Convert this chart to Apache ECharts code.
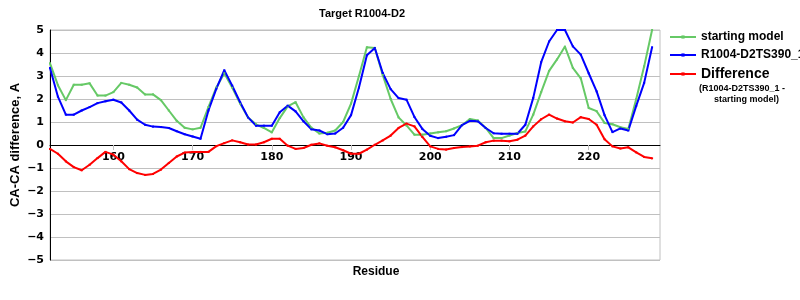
<!DOCTYPE html>
<html>
<head>
<meta charset="utf-8">
<script src="https://cdn.jsdelivr.net/npm/echarts@6/dist/echarts.min.js"></script>
<style>html,body{margin:0;padding:0;background:#fff;}#c{width:800px;height:300px;}</style>
</head>
<body>
<div id="c"></div>
<script>
const residues = [152,153,154,155,156,157,158,159,160,161,162,163,164,165,166,167,168,169,170,171,172,173,174,175,176,177,178,179,180,181,182,183,184,185,186,187,188,189,190,191,192,193,194,195,196,197,198,199,200,201,202,203,204,205,206,207,208,209,210,211,212,213,214,215,216,217,218,219,220,221,222,223,224,225,226,227,228];
const startingModel = [3.55,2.6,1.95,2.62,2.62,2.68,2.15,2.15,2.3,2.7,2.62,2.5,2.2,2.2,1.95,1.5,1.05,0.75,0.68,0.75,1.65,2.5,3.12,2.5,1.8,1.2,0.9,0.74,0.55,1.17,1.68,1.86,1.2,0.75,0.5,0.53,0.63,1.0,1.8,3.0,4.25,4.22,3.05,2.0,1.2,0.85,0.45,0.45,0.5,0.55,0.6,0.72,0.86,1.13,1.07,0.74,0.3,0.3,0.41,0.52,0.59,1.32,2.3,3.22,3.72,4.28,3.35,2.9,1.61,1.47,0.96,0.9,0.77,0.7,2.0,3.42,5.0];
const modelTS390 = [3.35,2.1,1.32,1.32,1.5,1.65,1.82,1.9,1.97,1.85,1.5,1.1,0.88,0.8,0.78,0.74,0.6,0.47,0.37,0.27,1.5,2.45,3.25,2.58,1.86,1.2,0.84,0.84,0.84,1.42,1.71,1.46,1.03,0.68,0.63,0.47,0.5,0.75,1.3,2.5,3.9,4.22,3.13,2.43,2.04,1.97,1.22,0.7,0.4,0.3,0.36,0.43,0.86,1.05,1.03,0.74,0.51,0.49,0.49,0.49,0.88,2.05,3.6,4.5,5.0,5.0,4.29,3.93,3.12,2.33,1.3,0.56,0.72,0.63,1.7,2.7,4.25];
const difference = [-0.17,-0.38,-0.71,-0.96,-1.1,-0.86,-0.57,-0.3,-0.42,-0.71,-1.05,-1.22,-1.3,-1.26,-1.07,-0.78,-0.5,-0.33,-0.3,-0.3,-0.3,-0.05,0.08,0.2,0.12,0.02,0.02,0.12,0.27,0.27,-0.03,-0.17,-0.13,0.01,0.07,-0.03,-0.1,-0.23,-0.38,-0.38,-0.2,0.01,0.2,0.41,0.74,0.93,0.81,0.35,-0.06,-0.17,-0.2,-0.13,-0.09,-0.06,-0.03,0.12,0.19,0.19,0.16,0.23,0.41,0.81,1.12,1.32,1.15,1.03,0.98,1.21,1.13,0.88,0.25,-0.06,-0.15,-0.1,-0.32,-0.52,-0.58];
const xTicks = [160,170,180,190,200,210,220];
const seriesNames = ['starting model','R1004-D2TS390_1','Difference'];

const pair = vals => residues.map((r,i) => [r, vals[i]]);
const colors = ['#66c966','#0000ff','#ff0000'];
const mk = (name, vals, color) => ({
  name, type:'line', data: pair(vals), color,
  symbol:'rect', symbolSize:2, showAllSymbol:true,
  lineStyle:{width:2,color}, itemStyle:{color},
  emphasis:{disabled:true}, animation:false, z: 3
});

const chart = echarts.init(document.getElementById('c'), null, {renderer:'canvas'});
chart.setOption({
  animation:false,
  title:{text:'Target R1004-D2', left:357, top:3, textAlign:'center',
    textStyle:{fontFamily:'Liberation Sans', fontWeight:'bold', fontSize:11, color:'#000'}},
  grid:{left:50, right:140, top:30, bottom:40, containLabel:false, outerBoundsMode:'none',
    show:true, borderColor:'#c0c0c0', borderWidth:1},
  legend:{orient:'vertical', left:664, top:26, itemWidth:26, itemHeight:4, itemGap:6,
    data: seriesNames,
    textStyle:{fontFamily:'Liberation Sans', fontWeight:'bold', fontSize:12, color:'#000',
      rich:{big:{fontFamily:'Liberation Sans', fontWeight:'bold', fontSize:14, color:'#000'}}},
    formatter: n => n === 'Difference' ? '{big|' + n + '}' : n
  },
  graphic:[
    {type:'text', left:699, top:84, style:{text:'(R1004-D2TS390_1 -', font:'bold 9px "Liberation Sans"', fill:'#000'}},
    {type:'text', left:714, top:95, style:{text:'starting model)', font:'bold 9px "Liberation Sans"', fill:'#000'}}
  ],
  xAxis:{type:'value', min:152, max:229, position:'bottom', offset:-115,
    name:'Residue', nameLocation:'middle', nameGap:121, nameMoveOverlap:false,
    nameTextStyle:{fontFamily:'Liberation Sans', fontWeight:'bold', fontSize:12, color:'#000', padding:[0,0,0,42]},
    axisLine:{onZero:false, lineStyle:{color:'#000', width:1}},
    axisTick:{show:true, customValues:xTicks, length:5, lineStyle:{color:'#c0c0c0'}},
    axisLabel:{customValues:xTicks, fontFamily:'DejaVu Sans', fontWeight:'bold', fontSize:11, color:'#000', margin:7},
    splitLine:{show:false}
  },
  yAxis:{type:'value', min:-5, max:5, interval:1,
    name:'CA-CA difference, A', nameLocation:'middle', nameGap:28, nameMoveOverlap:false,
    nameTextStyle:{fontFamily:'Liberation Sans', fontWeight:'bold', fontSize:13, color:'#000'},
    axisLine:{show:true, onZero:false, lineStyle:{color:'#000', width:1}},
    axisTick:{show:false},
    axisLabel:{fontFamily:'DejaVu Sans', fontWeight:'bold', fontSize:11, color:'#000', margin:6,
      formatter: v => String(v).replace('-', '\u2212')},
    splitLine:{show:true, lineStyle:{color:'#c0c0c0', width:1}}
  },
  series:[
    mk(seriesNames[0], startingModel, colors[0]),
    mk(seriesNames[1], modelTS390, colors[1]),
    mk(seriesNames[2], difference, colors[2])
  ]
});
</script>
</body>
</html>
